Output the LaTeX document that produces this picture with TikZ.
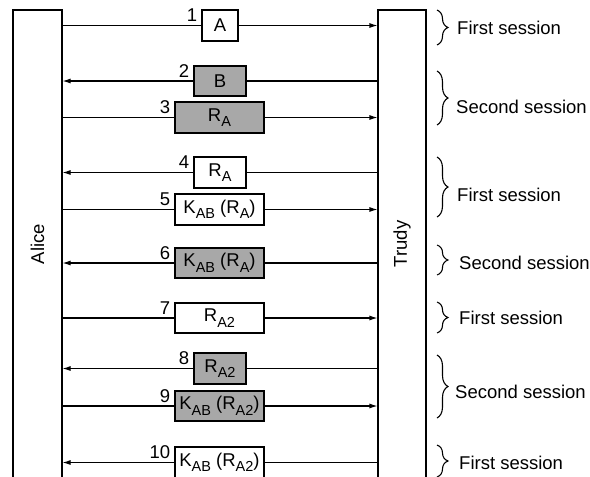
\documentclass[tikz,border=0pt]{standalone}
\usepackage{fontspec}
\setmainfont{Liberation Sans}
\usetikzlibrary{arrows.meta,decorations.pathreplacing}
\newcommand\lsub[1]{\raisebox{-0.3em}{\fontsize{14.5pt}{15pt}\selectfont #1}}
\definecolor{msggray}{RGB}{168,168,168}
\begin{document}
\begin{tikzpicture}[x=1pt,y=-1pt,
  every node/.style={font=\fontsize{18.5pt}{20pt}\selectfont},
  party/.style={draw, line width=1.1pt, inner sep=0pt, minimum height=468pt},
  msg/.style={draw, line width=1.1pt, fill=white, inner sep=0pt},
  gmsg/.style={msg, fill=msggray},
  narrow/.style={minimum width=52pt},
  wide/.style={minimum width=89pt},
  wire/.style={line width=1.1pt},
  arr/.style={line width=1.1pt, -{Latex[length=8pt,width=5pt]}},
  num/.style={anchor=north east, inner sep=0pt},
  sbrace/.style={line width=1.1pt, decorate, decoration={brace, amplitude=11pt}},
  slabel/.style={anchor=west, inner sep=0pt}
]
\useasboundingbox (0,0) rectangle (590,477);
\clip (0,0) rectangle (590,477);
\fill[white] (0,0) rectangle (590,477);

% parties
\node[party, minimum width=49pt] (alice) at (37.5,244) {};
\node[party, minimum width=48pt] (trudy) at (402,244) {};
\node[rotate=90] at (alice) {Alice};
\node[rotate=90] at (trudy) {Trudy};

% messages
\node[msg, minimum width=36pt, minimum height=31pt] (m1) at (220,25.5) {A};
\node[gmsg, narrow, minimum height=30pt] (m2) at (220,81) {B};
\node[gmsg, wide, minimum height=31pt] (m3) at (219.5,117.5) {R\lsub{A}};
\node[msg, narrow, minimum height=31pt] (m4) at (220,172.5) {R\lsub{A}};
\node[msg, wide, minimum height=31pt] (m5) at (219.5,209.5) {K\lsub{AB} (R\lsub{A})};
\node[gmsg, wide, minimum height=30pt] (m6) at (219.5,263) {K\lsub{AB} (R\lsub{A})};
\node[msg, wide, minimum height=30pt] (m7) at (219.5,318) {R\lsub{A2}};
\node[gmsg, narrow, minimum height=31pt] (m8) at (220,368.5) {R\lsub{A2}};
\node[gmsg, wide, minimum height=30pt] (m9) at (219.5,406) {K\lsub{AB} (R\lsub{A2})};
\node[msg, wide, minimum height=31pt] (m10) at (219.5,462.5) {K\lsub{AB} (R\lsub{A2})};

% connectors: Alice -> Trudy
\foreach \m in {m1,m3,m5,m7,m9}{
  \draw[wire] (alice.east |- \m) -- (\m.west);
  \draw[arr] (\m.east) -- (trudy.west |- \m);
}
% connectors: Trudy -> Alice
\foreach \m in {m2,m4,m6,m8,m10}{
  \draw[wire] (trudy.west |- \m) -- (\m.east);
  \draw[arr] (\m.west) -- (alice.east |- \m);
}

% step numbers
\foreach \m/\n in {m1/1,m2/2,m3/3,m4/4,m5/5,m6/6,m7/7,m8/8,m9/9,m10/10}{
  \node[num] at ([xshift=-4pt,yshift=1pt]\m.north west) {\n};
}

% session braces
\coordinate (b1t) at (437,10);  \coordinate (b1b) at (437,45);
\coordinate (b2t) at (437,71);  \coordinate (b2b) at (437,125);
\coordinate (b3t) at (437,157); \coordinate (b3b) at (437,217);
\coordinate (b4t) at (437,245); \coordinate (b4b) at (437,275);
\coordinate (b5t) at (437,302); \coordinate (b5b) at (437,333);
\coordinate (b6t) at (437,355); \coordinate (b6b) at (437,418);
\coordinate (b7t) at (437,445); \coordinate (b7b) at (437,477);
\draw[sbrace] (b1t) -- (b1b);
\draw[sbrace] (b2t) -- (b2b);
\draw[sbrace] (b3t) -- (b3b);
\draw[sbrace] (b4t) -- (b4b);
\draw[sbrace] (b5t) -- (b5b);
\draw[sbrace] (b6t) -- (b6b);
\draw[sbrace] (b7t) -- (b7b);
\node[slabel] at (457,28) {First session};
\node[slabel] at (456,107) {Second session};
\node[slabel] at (457,195) {First session};
\node[slabel] at (459,263) {Second session};
\node[slabel] at (459,318) {First session};
\node[slabel] at (455,392) {Second session};
\node[slabel] at (459,463) {First session};
\end{tikzpicture}
\end{document}
